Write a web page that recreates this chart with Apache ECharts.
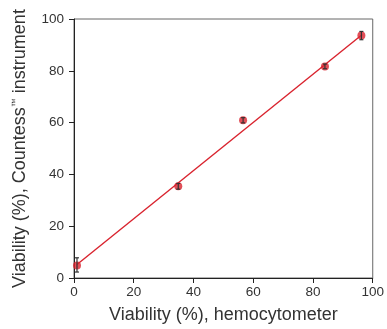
<!DOCTYPE html>
<html><head><meta charset="utf-8">
<script src="https://cdn.jsdelivr.net/npm/echarts@6/dist/echarts.min.js"></script>
<style>html,body{margin:0;padding:0;background:#fff}#c{width:387px;height:329px}</style>
</head><body><div id="c"></div>
<script>
// Data
const hemocytometer = [1, 34.9, 56.6, 84.0, 96.2];
const countess      = [4.8, 35.4, 60.9, 81.7, 93.6];
const errLow        = [2.3, 34.3, 59.9, 80.8, 92.0];
const errHigh       = [7.8, 36.5, 61.9, 82.6, 95.2];
const fitX          = [1, 96.5];
const fitY          = [5.2, 94.0];
const axisTicks     = [0, 20, 40, 60, 80, 100];

const font = "'Liberation Sans', Arial, Helvetica, sans-serif";
const points = hemocytometer.map((x, i) => [x, countess[i]]);
const errs = hemocytometer.map((x, i) => [x, errLow[i], errHigh[i]]);
const fit = fitX.map((x, i) => [x, fitY[i]]);

const chart = echarts.init(document.getElementById('c'), null, {renderer: 'canvas'});
const axisCommon = {
  min: axisTicks[0], max: axisTicks[axisTicks.length - 1], interval: 20,
  axisLine: {show: true, lineStyle: {color: '#222', width: 1}},
  axisTick: {show: true, inside: false, length: 5, lineStyle: {color: '#222'}},
  axisLabel: {color: '#333', fontSize: 13.5, fontFamily: font},
  splitLine: {show: false},
  nameLocation: 'middle',
  nameTextStyle: {color: '#333', fontSize: 18, fontFamily: font,
    rich: {sup: {fontSize: 9, verticalAlign: 'top', color: '#333', fontFamily: font, padding: [0, 0, 8, 0]}}}
};
chart.setOption({
  animation: false,
  grid: {left: 74, right: 11, top: 19, bottom: 50, show: true, borderColor: '#666', borderWidth: 1},
  xAxis: Object.assign({}, axisCommon, {type: 'value', name: 'Viability (%), hemocytometer', nameGap: 28,
    axisLabel: Object.assign({}, axisCommon.axisLabel, {margin: 7})}),
  yAxis: Object.assign({}, axisCommon, {type: 'value', name: 'Viability (%), Countess{sup|™} instrument', nameGap: 45,
    axisLabel: Object.assign({}, axisCommon.axisLabel, {margin: 10})}),
  series: [
    {type: 'line', data: fit, symbol: 'none', lineStyle: {color: '#d9232e', width: 1.4}, z: 2},
    {type: 'scatter', data: points, symbol: 'circle', symbolSize: 8, itemStyle: {color: '#d9232e'}, z: 3},
    {type: 'custom', data: errs, z: 4,
      renderItem: function (params, api) {
        const x = api.value(0);
        const lo = api.coord([x, api.value(1)]);
        const hi = api.coord([x, api.value(2)]);
        const w = 2;
        const st = {stroke: '#333', lineWidth: 1.2};
        return {type: 'group', children: [
          {type: 'line', shape: {x1: lo[0], y1: lo[1], x2: hi[0], y2: hi[1]}, style: st},
          {type: 'line', shape: {x1: lo[0] - w, y1: lo[1], x2: lo[0] + w, y2: lo[1]}, style: st},
          {type: 'line', shape: {x1: hi[0] - w, y1: hi[1], x2: hi[0] + w, y2: hi[1]}, style: st}
        ]};
      }
    }
  ]
});
</script></body></html>
